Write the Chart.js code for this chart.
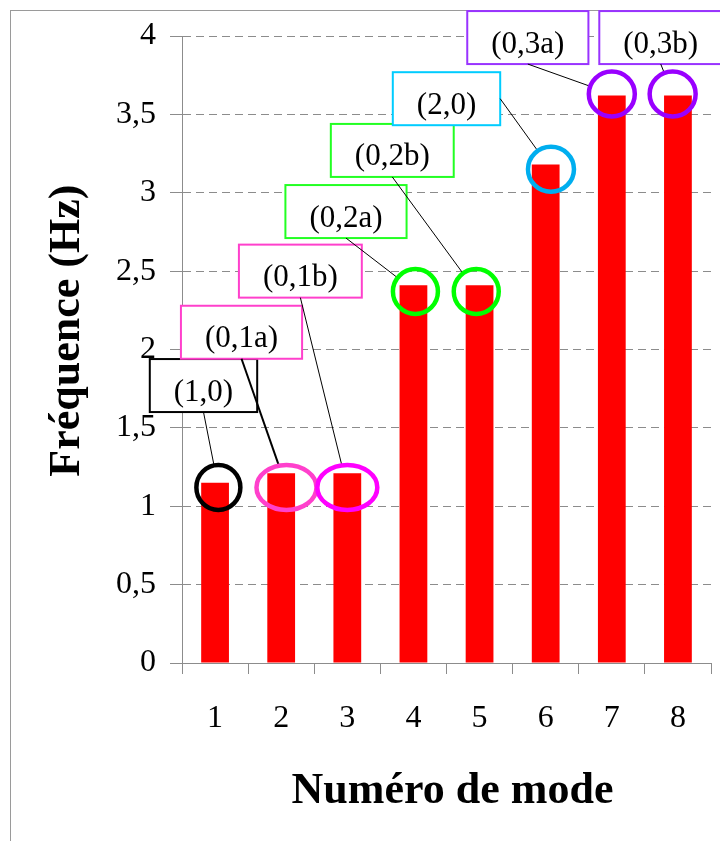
<!DOCTYPE html>
<html>
<head>
<meta charset="utf-8">
<script src="https://cdn.jsdelivr.net/npm/chart.js@4/dist/chart.umd.min.js"></script>
<style>
  html, body { margin: 0; padding: 0; background: #ffffff; }
  canvas { display: block; }
</style>
</head>
<body>
<canvas id="modesChart" width="720" height="841"></canvas>
<script>
// Mode numbers and measured frequencies (Hz)
const modeLabels = ['1', '2', '3', '4', '5', '6', '7', '8'];
const frequencies = [1.15, 1.21, 1.21, 2.41, 2.41, 3.18, 3.62, 3.62];
const yTickLabels = ['0', '0,5', '1', '1,5', '2', '2,5', '3', '3,5', '4'];

// Mode shape names shown in the call-out boxes
const modeNames = ['(1,0)', '(0,1a)', '(0,1b)', '(0,2a)', '(0,2b)', '(2,0)', '(0,3a)', '(0,3b)'];

// Call-out placement, in axis units (category index, Hz)
const boxX = [-0.175, 0.40, 1.29, 1.98, 2.68, 3.50, 4.73, 6.74];
const boxY = [1.77, 2.11, 2.50, 2.88, 3.27, 3.60, 3.99, 3.99];
const boxAnchor = ['bottom', 'bottom', 'bottom', 'bottom', 'bottom', 'right', 'bottom', 'bottom'];
const ringX = [0.05, 1.08, 2.0, 3.03, 3.95, 5.08, 6.0, 6.92];
const ringY = [1.12, 1.12, 1.12, 2.37, 2.37, 3.15, 3.63, 3.63];
const ringRx = [22, 30, 30, 22.5, 22.5, 23, 23, 23];
const ringColors = ['#000000', '#ff40cc', '#ff00ff', '#00ff00', '#00ff00', '#00aeef', '#9900ff', '#9900ff'];
const boxColors = ['#000000', '#ff40cc', '#ff40cc', '#22ff22', '#22ff22', '#00ccff', '#9933ff', '#9933ff'];
const leaderWidths = [1, 2, 1, 1, 1, 1, 1, 1];

const serif = "'Liberation Serif', 'Times New Roman', serif";

// White page with the grey frame of the original sheet
const framePlugin = {
    id: 'frame',
    beforeDraw(chart) {
        const ctx = chart.ctx;
        ctx.save();
        ctx.fillStyle = '#ffffff';
        ctx.fillRect(0, 0, chart.width, chart.height);
        ctx.strokeStyle = '#9a9a9a';
        ctx.lineWidth = 1;
        ctx.strokeRect(10.5, 10.5, chart.width + 20, chart.height + 20);
        ctx.restore();
    }
};

// Axis titles
const titlesPlugin = {
    id: 'titles',
    afterDraw(chart) {
        const ctx = chart.ctx;
        const area = chart.chartArea;
        ctx.save();
        ctx.fillStyle = '#000000';
        ctx.font = 'bold 44px ' + serif;
        ctx.textAlign = 'center';
        ctx.textBaseline = 'alphabetic';
        ctx.fillText('Numéro de mode', (area.left + area.right) / 2 + 6, 803);
        ctx.translate(79, area.top + (area.bottom - area.top) * 0.47);
        ctx.rotate(-Math.PI / 2);
        ctx.fillText('Fréquence (Hz)', 0, 0);
        ctx.restore();
    }
};

// Labelled boxes, leader lines and rings round the bar tops
const calloutPlugin = {
    id: 'callouts',
    afterDraw(chart) {
        const ctx = chart.ctx;
        const xs = chart.scales.x;
        const ys = chart.scales.y;
        const ry = 22.5;
        const boxH = 53;
        ctx.save();
        ctx.font = '31px ' + serif;

        const boxes = modeNames.map((name, i) => {
            const w = ctx.measureText(name).width + 48;
            const cx = xs.getPixelForValue(boxX[i]);
            const cy = ys.getPixelForValue(boxY[i]);
            return { cx, cy, w, left: cx - w / 2, top: cy - boxH / 2 };
        });

        // boxes
        modeNames.forEach((name, i) => {
            const b = boxes[i];
            ctx.fillStyle = '#ffffff';
            ctx.fillRect(b.left, b.top, b.w, boxH);
            ctx.strokeStyle = boxColors[i];
            ctx.lineWidth = 2;
            ctx.strokeRect(b.left, b.top, b.w, boxH);
            ctx.fillStyle = '#000000';
            ctx.textAlign = 'center';
            ctx.textBaseline = 'alphabetic';
            ctx.fillText(name, b.cx, b.cy + 15);
        });

        // leader lines, ending on the ring outline
        modeNames.forEach((name, i) => {
            const b = boxes[i];
            const ax = boxAnchor[i] === 'right' ? b.left + b.w : b.cx;
            const ay = boxAnchor[i] === 'right' ? b.cy : b.top + boxH;
            const rcx = xs.getPixelForValue(ringX[i]);
            const rcy = ys.getPixelForValue(ringY[i]);
            const dx = ax - rcx;
            const dy = ay - rcy;
            const t = 1 / Math.sqrt((dx / ringRx[i]) ** 2 + (dy / ry) ** 2);
            ctx.beginPath();
            ctx.strokeStyle = '#000000';
            ctx.lineWidth = leaderWidths[i];
            ctx.moveTo(ax, ay);
            ctx.lineTo(rcx + dx * t, rcy + dy * t);
            ctx.stroke();
        });

        // rings
        modeNames.forEach((name, i) => {
            ctx.beginPath();
            ctx.strokeStyle = ringColors[i];
            ctx.lineWidth = 4.5;
            ctx.ellipse(xs.getPixelForValue(ringX[i]), ys.getPixelForValue(ringY[i]), ringRx[i], ry, 0, 0, Math.PI * 2);
            ctx.stroke();
        });
        ctx.restore();
    }
};

const data = {
    labels: modeLabels,
    datasets: [{
        data: frequencies,
        backgroundColor: '#ff0000',
        borderWidth: 0,
        barPercentage: 0.42,
        categoryPercentage: 1
    }]
};

const config = {
    type: 'bar',
    data: data,
    options: {
        responsive: false,
        animation: false,
        devicePixelRatio: 1,
        layout: {
            padding: { top: 36, right: 9, left: 0, bottom: 0 }
        },
        plugins: {
            legend: { display: false },
            title: { display: false },
            tooltip: { enabled: false }
        },
        scales: {
            x: {
                afterFit(scale) { scale.height = 178; },
                grid: {
                    offset: true,
                    drawOnChartArea: false,
                    drawTicks: true,
                    tickLength: 11,
                    tickColor: '#8c8c8c'
                },
                border: { color: '#8c8c8c', width: 1 },
                ticks: {
                    color: '#000000',
                    padding: 25,
                    font: { family: serif, size: 32 }
                }
            },
            y: {
                min: 0,
                max: 4,
                afterFit(scale) { scale.width = 182; },
                grid: {
                    color: '#8c8c8c',
                    tickColor: '#8c8c8c',
                    tickLength: 12,
                    tickBorderDash: []
                },
                border: { color: '#8c8c8c', width: 1, dash: [8, 5] },
                ticks: {
                    stepSize: 0.5,
                    color: '#000000',
                    padding: 14,
                    font: { family: serif, size: 32 },
                    callback: function(value) {
                        return yTickLabels[Math.round(value * 2)];
                    }
                }
            }
        }
    },
    plugins: [framePlugin, titlesPlugin, calloutPlugin]
};

const chart = new Chart(
    document.getElementById('modesChart'),
    config
);
</script>
</body>
</html>
